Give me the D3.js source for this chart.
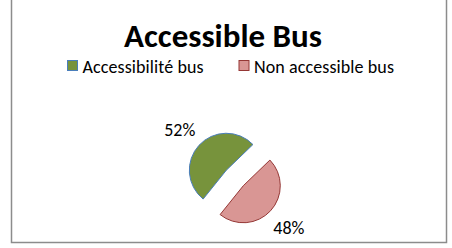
<!DOCTYPE html>
<html>
  <head>
    <meta charset="utf-8">
    <title>Accessible Bus</title>
    <script src="https://d3js.org/d3.v7.min.js"></script>
    <style>
      body { margin: 0; background: #fff; }
      text { font-family: Carlito, Calibri, Lato, "Open Sans", sans-serif; fill: #000; }
    </style>
  </head>
  <body>
    <svg id="chart" width="452" height="248"></svg>
    <script>
      // data
      var categories = ["Accessibilité bus", "Non accessible bus"];
      var shares = [52, 48];
      var labels = ["52%", "48%"];
      var fills = ["#77933C", "#D99694"];
      var strokes = ["#4A7EBB", "#953735"];

      var svg = d3.select("#chart");

      // frame
      svg.append("rect")
        .attr("x", 11.5).attr("y", -3)
        .attr("width", 435).attr("height", 245.5)
        .attr("fill", "#fff")
        .attr("stroke", "#8c8c8c")
        .attr("stroke-width", 1.5);

      // title
      svg.append("text")
        .attr("x", 223).attr("y", 47)
        .attr("text-anchor", "middle")
        .style("font-weight", "bold")
        .style("font-size", "33px")
        .text("Accessible Bus");

      // legend
      var legendX = [67, 238.5];
      var legend = svg.selectAll(".legendItem")
          .data(categories)
        .enter().append("g")
          .attr("class", "legendItem")
          .attr("transform", function(d, i) { return "translate(" + legendX[i] + ",60)"; });
      legend.append("rect")
        .attr("x", 0.5).attr("y", 0.5)
        .attr("width", 10).attr("height", 10)
        .attr("fill", function(d, i) { return fills[i]; })
        .attr("stroke", function(d, i) { return strokes[i]; })
        .attr("stroke-width", 1);
      legend.append("text")
        .attr("x", 15.5).attr("y", 12.5)
        .style("font-size", "18px")
        .style("letter-spacing", "0.1px")
        .text(function(d) { return d; });

      // pie
      var cx = 234.8, cy = 178, r = 37, explode = 11.5;
      var start = 218.8 * Math.PI / 180;
      var pie = d3.pie()
        .sort(null)
        .startAngle(start)
        .endAngle(start + 2 * Math.PI);
      var arcs = pie(shares);
      var arc = d3.arc().innerRadius(0).outerRadius(r);
      var labelArc = d3.arc().innerRadius(61).outerRadius(61);

      var slices = svg.selectAll(".slice")
          .data(arcs)
        .enter().append("g")
          .attr("class", "slice")
          .attr("transform", function(d) {
            var a = (d.startAngle + d.endAngle) / 2;
            return "translate(" + (cx + explode * Math.sin(a)) + "," + (cy - explode * Math.cos(a)) + ")";
          });
      slices.append("path")
        .attr("d", arc)
        .attr("fill", function(d, i) { return fills[i]; })
        .attr("stroke", function(d, i) { return strokes[i]; })
        .attr("stroke-width", 1);
      slices.append("text")
        .attr("transform", function(d) { return "translate(" + labelArc.centroid(d) + ")"; })
        .attr("text-anchor", "middle")
        .attr("x", function(d, i) { return i === 0 ? -1.5 : 0.5; })
        .attr("dy", "0.4em")
        .style("font-size", "18px")
        .text(function(d, i) { return labels[i]; });
    </script>
  </body>
</html>
